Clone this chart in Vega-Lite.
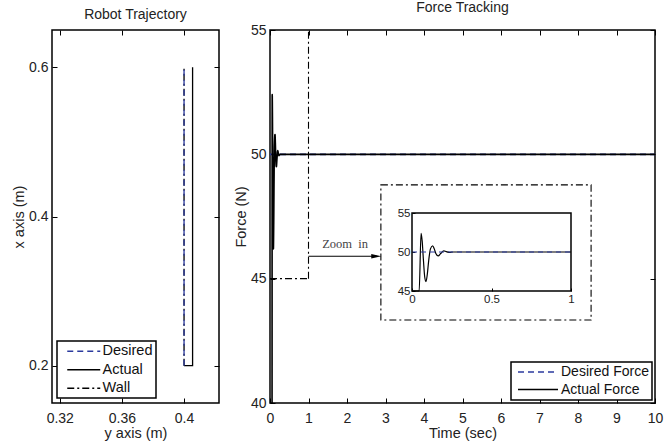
{
  "$schema": "https://vega.github.io/schema/vega-lite/v6.json",
  "padding": {"left": 10, "top": 0, "right": 5, "bottom": 0},
  "background": "white",
  "config": {
    "font": "Liberation Sans",
    "view": {"stroke": "black", "strokeWidth": 1.5},
    "axis": {"grid": false, "domain": false, "tickSize": -5, "tickColor": "black", "tickWidth": 1, "labelFontSize": 14, "labelColor": "#222", "titleFontSize": 14.5, "titleFontWeight": "normal", "titleColor": "#222", "labelFont": "Liberation Sans", "titleFont": "Liberation Sans", "labelOverlap": false, "labelFlush": false, "labelBound": false},
    "axisX": {"labelPadding": 13, "titlePadding": 1},
    "axisY": {"labelPadding": 9, "titlePadding": 2},
    "title": {"fontSize": 14, "fontWeight": "normal", "color": "#222", "offset": 8, "font": "Liberation Sans"},
    "legend": {"strokeColor": "black", "strokeWidth": 1.5, "fillColor": "white", "padding": 3, "labelFontSize": 14.5, "labelColor": "#111", "labelFont": "Liberation Sans", "rowPadding": 3.5, "symbolStrokeWidth": 1.4, "cornerRadius": 0}
  },
  "spacing": 11,
  "hconcat": [
    {
      "width": 167,
      "height": 373,
      "title": "Robot Trajectory",
      "data": {"values": [
        {"series": "Wall", "y": 0.4, "x": 0.2, "i": 0},
        {"series": "Wall", "y": 0.4, "x": 0.6, "i": 1},
        {"series": "Actual", "y": 0.4, "x": 0.2, "i": 0},
        {"series": "Actual", "y": 0.4055, "x": 0.2, "i": 1},
        {"series": "Actual", "y": 0.4055, "x": 0.6, "i": 2},
        {"series": "Desired", "y": 0.4, "x": 0.2, "i": 0},
        {"series": "Desired", "y": 0.4, "x": 0.6, "i": 1}
      ]},
      "layer": [
        {
          "mark": {"type": "line", "strokeWidth": 1.3},
          "encoding": {
            "x": {"field": "y", "type": "quantitative", "scale": {"domain": [0.315, 0.4225], "nice": false, "zero": false}, "axis": {"orient": "bottom", "values": [0.32, 0.36, 0.4], "format": ".2~f", "title": "y axis (m)"}},
            "y": {"field": "x", "type": "quantitative", "scale": {"domain": [0.15, 0.65], "nice": false, "zero": false}, "axis": {"orient": "left", "values": [0.2, 0.4, 0.6], "format": ".1f", "title": "x axis (m)"}},
            "color": {"field": "series", "type": "nominal", "scale": {"domain": ["Desired", "Actual", "Wall"], "range": ["#2b3a9e", "#000000", "#000000"]}, "legend": {"title": null, "orient": "bottom-left", "offset": 5, "symbolType": "M0,0H6.6", "symbolSize": 100, "labelOffset": 28}},
            "strokeDash": {"field": "series", "type": "nominal", "scale": {"domain": ["Desired", "Actual", "Wall"], "range": [[6, 4], [1, 0], [7, 3, 2, 3]]}, "legend": {"title": null, "orient": "bottom-left", "offset": 5, "symbolType": "M0,0H6.6", "symbolSize": 100, "labelOffset": 28}},
            "order": {"field": "i", "type": "quantitative"}
          }
        },
        {
          "mark": {"type": "point", "opacity": 0},
          "encoding": {
            "x": {"field": "y", "type": "quantitative", "scale": {"domain": [0.315, 0.4225], "nice": false, "zero": false}, "axis": {"orient": "top", "values": [0.32, 0.36, 0.4], "labels": false, "title": null}},
            "y": {"field": "x", "type": "quantitative", "scale": {"domain": [0.15, 0.65], "nice": false, "zero": false}, "axis": {"orient": "right", "values": [0.2, 0.4, 0.6], "labels": false, "title": null}}
          }
        }
      ],
      "resolve": {"scale": {"x": "independent", "y": "independent"}}
    },
    {
      "width": 385,
      "height": 373,
      "title": "Force Tracking",
      "data": {"values": [
        {"series": "Desired Force", "t": 0, "F": 50},
        {"series": "Desired Force", "t": 10, "F": 50},
        {"series": "Actual Force", "t": 0, "F": 0},
        {"series": "Actual Force", "t": 0.045, "F": 0},
        {"series": "Actual Force", "t": 0.057, "F": 52.4},
        {"series": "Actual Force", "t": 0.064, "F": 51.4},
        {"series": "Actual Force", "t": 0.072, "F": 48.9},
        {"series": "Actual Force", "t": 0.08, "F": 46.8},
        {"series": "Actual Force", "t": 0.088, "F": 46.2},
        {"series": "Actual Force", "t": 0.096, "F": 47.1},
        {"series": "Actual Force", "t": 0.105, "F": 48.9},
        {"series": "Actual Force", "t": 0.116, "F": 50.4},
        {"series": "Actual Force", "t": 0.13, "F": 50.8},
        {"series": "Actual Force", "t": 0.14, "F": 50.4},
        {"series": "Actual Force", "t": 0.15, "F": 49.8},
        {"series": "Actual Force", "t": 0.165, "F": 49.5},
        {"series": "Actual Force", "t": 0.18, "F": 49.8},
        {"series": "Actual Force", "t": 0.2, "F": 50.15},
        {"series": "Actual Force", "t": 0.215, "F": 50.05},
        {"series": "Actual Force", "t": 0.235, "F": 49.95},
        {"series": "Actual Force", "t": 0.26, "F": 50},
        {"series": "Actual Force", "t": 10, "F": 50}
      ]},
      "layer": [
        {
          "layer": [
            {
              "mark": {"type": "line", "strokeWidth": 1.6, "clip": true, "interpolate": "monotone"},
              "encoding": {
                "x": {"field": "t", "type": "quantitative", "scale": {"domain": [0, 10], "nice": false, "zero": false}, "axis": {"orient": "bottom", "tickCount": 10, "format": "d", "title": "Time (sec)", "labelOverlap": false}},
                "y": {"field": "F", "type": "quantitative", "scale": {"domain": [40, 55], "nice": false, "zero": false}, "axis": {"orient": "left", "values": [40, 45, 50, 55], "title": "Force (N)"}},
                "color": {"field": "series", "type": "nominal", "scale": {"domain": ["Desired Force", "Actual Force"], "range": ["#2b3a9e", "#000000"]}, "legend": {"title": null, "orient": "bottom-right", "offset": 3, "symbolType": "M-0.6,0H7.4", "symbolSize": 100, "labelOffset": 33, "labelFontSize": 14}},
                "strokeDash": {"field": "series", "type": "nominal", "scale": {"domain": ["Desired Force", "Actual Force"], "range": [[6, 4], [1, 0]]}, "legend": {"title": null, "orient": "bottom-right", "offset": 3, "symbolType": "M-0.6,0H7.4", "symbolSize": 100, "labelOffset": 33, "labelFontSize": 14}}
              }
            },
            {
              "data": {"values": [{}]},
              "mark": {"type": "rule", "color": "black", "strokeWidth": 1.1, "strokeDash": [7, 3, 2, 3]},
              "encoding": {"x": {"datum": 0, "type": "quantitative"}, "x2": {"datum": 1}, "y": {"datum": 45, "type": "quantitative"}}
            },
            {
              "data": {"values": [{}]},
              "mark": {"type": "rule", "color": "black", "strokeWidth": 1.1, "strokeDash": [7, 3, 2, 3]},
              "encoding": {"x": {"datum": 1, "type": "quantitative"}, "y": {"datum": 45, "type": "quantitative"}, "y2": {"datum": 55}}
            },
            {
              "data": {"values": [{}]},
              "mark": {"type": "rect", "fill": null, "stroke": "black", "strokeWidth": 1.1, "strokeDash": [7, 3, 2, 3]},
              "encoding": {"x": {"datum": 2.88, "type": "quantitative"}, "x2": {"datum": 8.34}, "y": {"datum": 43.34, "type": "quantitative"}, "y2": {"datum": 48.77}}
            },
            {
              "data": {"values": [{}]},
              "mark": {"type": "rule", "color": "black", "strokeWidth": 1.1},
              "encoding": {"x": {"datum": 1.0, "type": "quantitative"}, "x2": {"datum": 2.78}, "y": {"datum": 45.9, "type": "quantitative"}}
            },
            {
              "data": {"values": [{}]},
              "mark": {"type": "point", "shape": "M -1 -0.45 L 1 0 L -1 0.45 Z", "filled": true, "color": "black", "size": 100, "opacity": 1},
              "encoding": {"x": {"datum": 2.76, "type": "quantitative"}, "y": {"datum": 45.9, "type": "quantitative"}}
            },
            {
              "data": {"values": [{}]},
              "mark": {"type": "text", "text": "Zoom\u00a0\u00a0in", "font": "Liberation Serif", "fontSize": 12.5, "color": "#444"},
              "encoding": {"x": {"datum": 1.95, "type": "quantitative"}, "y": {"datum": 46.4, "type": "quantitative"}}
            }
          ]
        },
        {
          "layer": [
            {
              "transform": [{"filter": "datum.series == 'Actual Force'"}],
              "mark": {"type": "line", "color": "black", "strokeWidth": 1.2, "interpolate": "monotone"},
              "encoding": {
                "x": {"field": "t", "type": "quantitative", "scale": {"domain": [0, 1], "range": [142, 301], "clamp": true, "nice": false, "zero": false}, "axis": {"orient": "bottom", "offset": -112, "values": [0, 0.5, 1], "format": "~g", "title": null, "labelFontSize": 11.5, "tickSize": -3, "labelPadding": 5}},
                "y": {"field": "F", "type": "quantitative", "scale": {"domain": [45, 55], "range": [261, 183], "clamp": true, "nice": false, "zero": false}, "axis": {"orient": "left", "offset": -142, "values": [45, 50, 55], "title": null, "labelFontSize": 11.5, "tickSize": -3, "labelPadding": 5}}
              }
            },
            {
              "transform": [{"filter": "datum.series == 'Desired Force'"}],
              "mark": {"type": "line", "color": "#2b3a9e", "strokeDash": [5, 4], "strokeWidth": 1.2},
              "encoding": {
                "x": {"field": "t", "type": "quantitative"},
                "y": {"field": "F", "type": "quantitative"}
              }
            },
            {
              "data": {"values": [{}]},
              "mark": {"type": "rect", "fill": null, "stroke": "black", "strokeWidth": 1.5},
              "encoding": {"x": {"datum": 0, "type": "quantitative"}, "x2": {"datum": 1}, "y": {"datum": 45, "type": "quantitative"}, "y2": {"datum": 55}}
            }
          ]
        },
        {
          "mark": {"type": "point", "opacity": 0},
          "encoding": {
            "x": {"field": "t", "type": "quantitative", "scale": {"domain": [0, 10], "nice": false, "zero": false}, "axis": {"orient": "top", "tickCount": 10, "labels": false, "title": null}},
            "y": {"field": "F", "type": "quantitative", "scale": {"domain": [40, 55], "nice": false, "zero": false}, "axis": {"orient": "right", "values": [40, 45, 50, 55], "labels": false, "title": null}}
          }
        }
      ],
      "resolve": {"scale": {"x": "independent", "y": "independent"}}
    }
  ],
  "resolve": {"scale": {"color": "independent", "strokeDash": "independent"}, "legend": {"color": "independent", "strokeDash": "independent"}}
}
